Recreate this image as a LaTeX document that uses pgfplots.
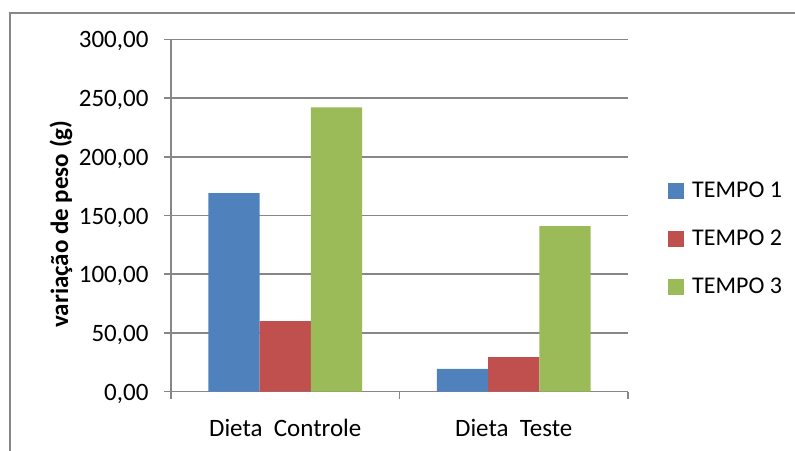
\documentclass[border=0pt]{standalone}
\usepackage{fontspec}
\setmainfont{Carlito}
\usepackage{pgfplots}
\pgfplotsset{compat=1.18}
\definecolor{t1}{HTML}{4F81BD}
\definecolor{t2}{HTML}{C0504D}
\definecolor{t3}{HTML}{9BBB59}
\definecolor{axgray}{HTML}{878787}

\begin{document}
\begin{tikzpicture}
\useasboundingbox (0pt,0pt) rectangle (795pt,450pt);
% chart frame
\draw[axgray, line width=2pt] (9.5pt,-10pt) -- (9.5pt,437pt) -- (810pt,437pt);
\begin{axis}[
  at={(171pt,58.3pt)}, anchor=south west,
  scale only axis, width=457pt, height=352.4pt,
  ymin=0, ymax=300, ytick={0,50,...,300},
  xmin=-0.5, xmax=1.5,
  xtick={-0.5,0.5,1.5}, xticklabels={},
  extra x ticks={0,1},
  extra x tick labels={Dieta~~Controle, Dieta~~Teste},
  extra x tick style={tick style={draw=none}},
  axis x line*=bottom, axis y line*=left,
  axis line style={axgray, line width=1.5pt},
  tick style={axgray, line width=1.5pt},
  tick align=outside,
  major tick length=7pt,
  ymajorgrids,
  grid style={axgray, line width=1.5pt},
  ticklabel style={font=\fontsize{25}{29}\selectfont},
  xticklabel style={yshift=-17pt},
  /pgf/number format/assume math mode=true,
  yticklabel style={xshift=-12pt, yshift=-2pt, /pgf/number format/.cd, fixed, fixed zerofill, precision=2, use comma, 1000 sep={}},
  ybar, bar width=0.224,
  legend cell align=left,
  legend style={at={(axis description cs:1.0875,0.6007)}, anchor=north west,
    draw=none, fill=none, inner sep=0pt,
    font=\fontsize{24}{28}\selectfont, row sep=27pt,
    /tikz/every odd column/.append style={column sep=6pt}},
  legend image code/.code={\fill[#1] (0pt,-8pt) rectangle (16pt,8pt);},
]
\addplot[fill=t1, draw=none, bar shift=-0.224] coordinates {(0,169) (1,19.5)};
\addplot[fill=t2, draw=none, bar shift=0] coordinates {(0,60) (1,29.5)};
\addplot[fill=t3, draw=none, bar shift=0.224] coordinates {(0,242) (1,141)};
\legend{TEMPO 1, TEMPO 2, TEMPO 3}
\end{axis}
\node[rotate=90, font=\bfseries\fontsize{25}{30}\selectfont] at (61pt,226pt) {variação de peso (g)};
\end{tikzpicture}
\end{document}
